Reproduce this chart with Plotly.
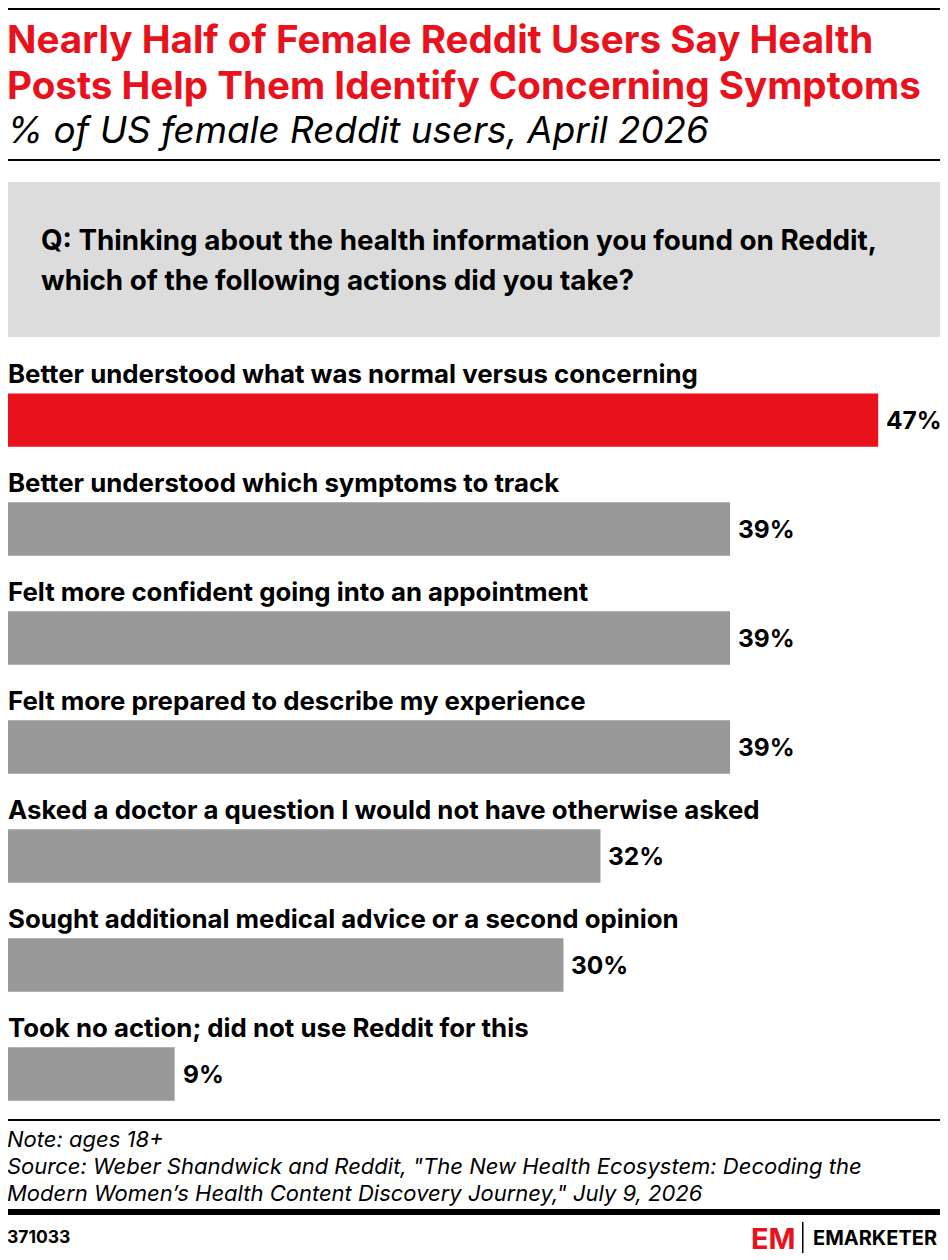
import plotly.graph_objects as go

categories = [
    "Better understood what was normal versus concerning",
    "Better understood which symptoms to track",
    "Felt more confident going into an appointment",
    "Felt more prepared to describe my experience",
    "Asked a doctor a question I would not have otherwise asked",
    "Sought additional medical advice or a second opinion",
    "Took no action; did not use Reddit for this",
]
values = [47, 39, 39, 39, 32, 30, 9]

title_lines = [
    "Nearly Half of Female Reddit Users Say Health",
    "Posts Help Them Identify Concerning Symptoms",
]
subtitle = "% of US female Reddit users, April 2026"
question = [
    "Q: Thinking about the health information you found on Reddit,",
    "which of the following actions did you take?",
]
note = "Note: ages 18+"
source_lines = [
    "Source: Weber Shandwick and Reddit, \"The New Health Ecosystem: Decoding the",
    "Modern Women\u2019s Health Content Discovery Journey,\" July 9, 2026",
]
chart_id = "371033"

RED = "#e8111c"
GREY = "#999999"
FONT = "Inter"

# page body has an 8px margin, so the figure is drawn 8px in from the corner
OFF = 8
W, H = 948 - OFF, 1260 - OFF


def fx(x):
    return (x - OFF) / W


def fy(y):
    return 1 - (y - OFF) / H


colors = [RED] + [GREY] * (len(values) - 1)
pos = list(range(len(values)))

fig = go.Figure()
fig.add_trace(go.Bar(
    x=values, y=pos, orientation="h",
    marker=dict(color=colors, line=dict(width=0)),
    width=0.49,
    hoverinfo="skip",
))

for i, v in enumerate(values):
    fig.add_annotation(x=v, y=i, xref="x", yref="y", text="<b>%d%%</b>" % v,
                       showarrow=False, xanchor="left", yanchor="middle",
                       xshift=6, font=dict(family=FONT, size=24.5, color="black"))

# category labels sit above each bar
for i, c in enumerate(categories):
    fig.add_annotation(x=0, y=i, xref="x", yref="y", text="<b>%s</b>" % c,
                       showarrow=False, xanchor="left", yanchor="middle",
                       xshift=-2, yshift=47,
                       font=dict(family=FONT, size=25.8, color="black"))

annos = []
for k, line in enumerate(title_lines):
    annos.append(dict(text="<b>%s</b>" % line, x=fx(5), y=fy(39 + 46 * k),
                      font=dict(size=38.6, color=RED)))
annos.append(dict(text="<i>%s</i>" % subtitle, x=fx(5), y=fy(129),
                  font=dict(size=36.8, color="black")))
for k, line in enumerate(question):
    annos.append(dict(text="<b>%s</b>" % line, x=fx(39), y=fy(240 + 40 * k),
                      font=dict(size=27.8, color="black")))
annos.append(dict(text="<i>%s</i>" % note, x=fx(5), y=fy(1139),
                  font=dict(size=22, color="black")))
for k, line in enumerate(source_lines):
    annos.append(dict(text="<i>%s</i>" % line, x=fx(5), y=fy(1166 + 27 * k),
                      font=dict(size=22, color="black")))
annos.append(dict(text="<b>%s</b>" % chart_id, x=fx(5), y=fy(1236),
                  font=dict(size=17.5, color="black")))
annos.append(dict(text="<b>EM</b>", x=fx(749), y=fy(1238),
                  font=dict(size=29, color=RED)))
annos.append(dict(text="<b>EMARKETER</b>", x=fx(811), y=fy(1238),
                  font=dict(size=20, color="black")))
for a in annos:
    fig.add_annotation(xref="paper", yref="paper", showarrow=False,
                       xanchor="left", yanchor="middle", **a)
    fig.layout.annotations[-1].font.family = FONT

shapes = [
    (6, 943, 4, 10, "black"),
    (6, 943, 159, 161, "black"),
    (6, 943, 182, 337, "#dcdcdc"),
    (6, 943, 1119, 1121, "black"),
    (6, 943, 1209, 1215, "black"),
    (802, 803.5, 1222, 1253, "black"),
]
for x0, x1, y0, y1, col in shapes:
    fig.add_shape(type="rect", xref="paper", yref="paper",
                  x0=fx(x0), x1=fx(x1), y0=fy(y1), y1=fy(y0),
                  fillcolor=col, line=dict(width=0), layer="below")

fig.update_layout(
    width=W, height=H,
    margin=dict(l=0, r=0, t=0, b=0),
    plot_bgcolor="rgba(0,0,0,0)", paper_bgcolor="white",
    showlegend=False,
    font=dict(family=FONT),
    xaxis=dict(range=[0, 50.5], domain=[0, fx(943)],
               visible=False, fixedrange=True),
    yaxis=dict(range=[6.5, -0.9], domain=[fy(1128.5), fy(322)],
               visible=False, fixedrange=True),
)

fig.write_html("out.html")
